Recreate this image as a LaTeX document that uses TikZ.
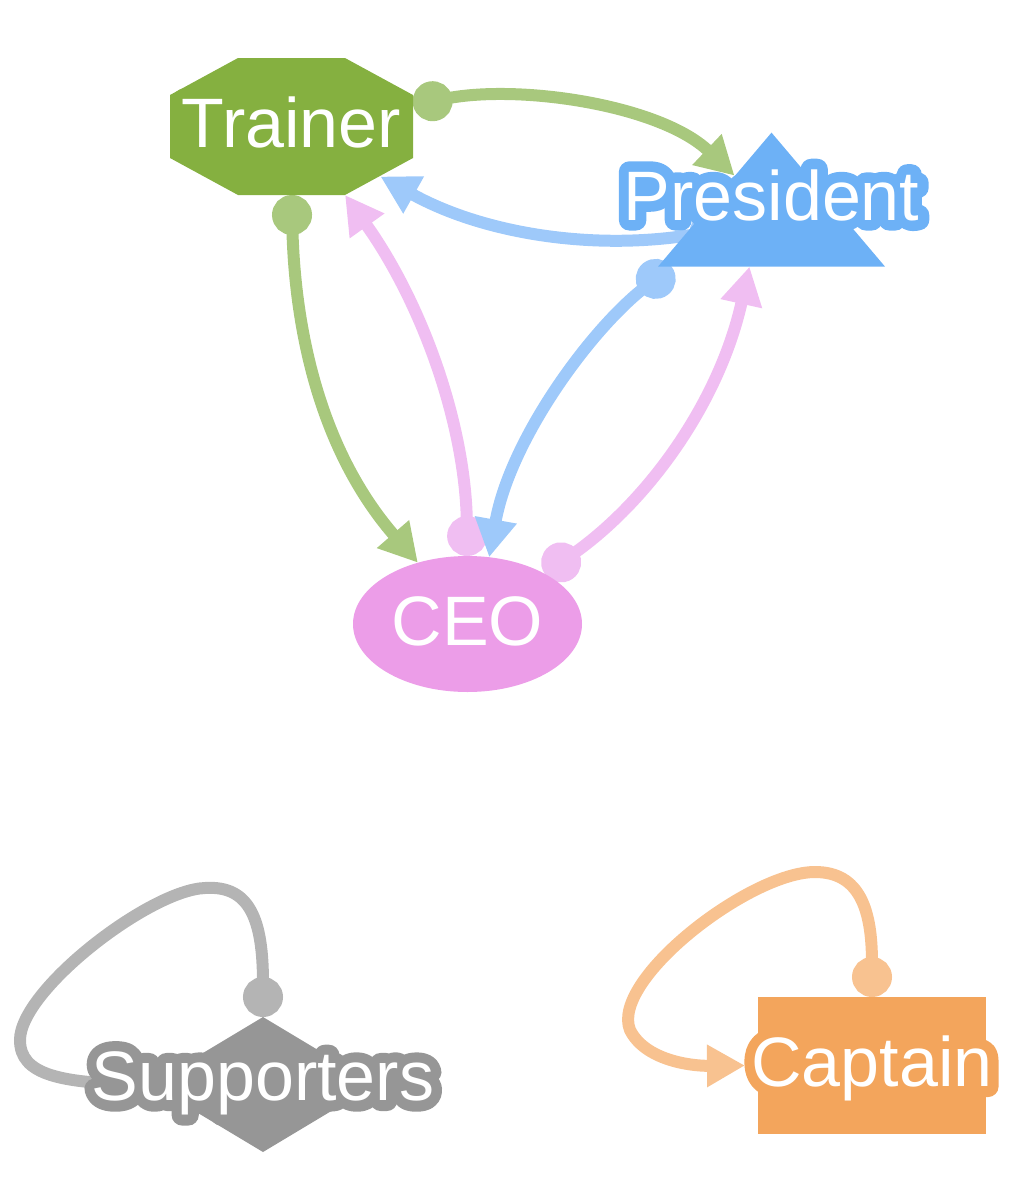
\documentclass[tikz,border=0pt]{standalone}
\usepackage{fontspec}
\setmainfont{Liberation Sans}
\usetikzlibrary{arrows.meta,shapes.geometric,positioning}
\definecolor{TrainerGreen}{RGB}{133,176,64}
\definecolor{TrainerLink}{RGB}{168,200,125}
\definecolor{PresidentBlue}{RGB}{109,177,246}
\definecolor{PresidentLink}{RGB}{158,201,250}
\definecolor{CeoPink}{RGB}{236,157,232}
\definecolor{CeoLink}{RGB}{240,190,242}
\definecolor{SupporterGrey}{RGB}{150,150,150}
\definecolor{SupporterLink}{RGB}{180,180,180}
\definecolor{CaptainOrange}{RGB}{243,165,92}
\definecolor{CaptainLink}{RGB}{248,194,144}
\newcommand{\halotext}[2]{\rlap{\color{#1}\special{pdf:literal 1 Tr 21 w 1 j}#2\special{pdf:literal 0 Tr}}\textcolor{white}{#2}}
\pgfdeclarelayer{links}
\pgfsetlayers{links,main}

\begin{document}
\begin{tikzpicture}[x=1pt,y=-1pt,
  role/.style={inner sep=0pt,outer sep=0pt},
  caption/.style={font=\fontsize{70}{70}\selectfont,inner sep=0pt,text height=50pt,text depth=8pt},
  link/.style={line width=12pt,{Circle[length=40pt]}-{Triangle[length=38pt,width=40pt]}},
  loose/.style={line width=12pt,{Circle[length=40pt]}-}]
  \useasboundingbox (0,0) rectangle (1023,1200);
  \fill[TrainerGreen] (291.5,126.5) ++(-53.5,-68.5) -- ++(107,0) -- ++(68,37) -- ++(0,63)
    -- ++(-68,37) -- ++(-107,0) -- ++(-68,-37) -- ++(0,-63) -- cycle;
  \node[role,rectangle,minimum width=243pt,minimum height=137pt,
    label={[caption]center:\halotext{TrainerGreen}{Trainer}}] (trainer) at (291.5,126.5) {};
  \node[role,isosceles triangle,isosceles triangle stretches,shape border rotate=90,
    minimum width=227pt,minimum height=134pt,fill=PresidentBlue,
    label={[caption,yshift=15pt]center:\halotext{PresidentBlue}{President}}] (president) at (771.5,214) {};
  \node[role,ellipse,minimum width=229pt,minimum height=136pt,fill=CeoPink,
    label={[caption]center:\halotext{CeoPink}{CEO}}] (ceo) at (467.5,624) {};
  \node[role,diamond,minimum width=225pt,minimum height=135pt,fill=SupporterGrey,
    label={[caption,yshift=5pt]center:\halotext{SupporterGrey}{Supporters}}] (supporters) at (263,1084.5) {};
  \node[role,rectangle,minimum width=228pt,minimum height=137pt,fill=CaptainOrange,
    label={[caption]center:\halotext{CaptainOrange}{Captain}}] (captain) at (872,1065.5) {};

  \begin{pgfonlayer}{links}
  \draw[link,TrainerLink] (trainer.10) .. controls (520,84) and (660,105) .. ([shift={(-37,43)}]president.apex);
  \draw[link,PresidentLink] ([shift={(-42,96)}]president.apex) .. controls (590,252) and (480,232) .. ([shift={(89,50)}]trainer.center);
  \draw[link,TrainerLink] (trainer.south) .. controls (295,330) and (320,450) .. (ceo.129);
  \draw[link,CeoLink] (ceo.north) .. controls (465,420) and (420,300) .. (trainer.-52);
  \draw[link,PresidentLink] ([xshift=-100pt]president.south) .. controls (590,330) and (510,440) .. (ceo.72);
  \draw[link,CeoLink] (ceo.33) .. controls (650,500) and (720,400) .. ([xshift=-22pt]president.south);
  \draw[loose,SupporterLink] (supporters.north) .. controls (263,920) and (250,885) .. (205,888)
    .. controls (150,890) and (20,990) .. (20,1040) .. controls (20,1075) and (60,1084) .. (supporters.west);
  \draw[link,CaptainLink] (captain.north) .. controls (872,910) and (860,872) .. (815,872)
    .. controls (750,872) and (610,980) .. (630,1030) .. controls (645,1060) and (690,1066) .. ([xshift=-13pt]captain.west);
  \end{pgfonlayer}
\end{tikzpicture}
\end{document}
